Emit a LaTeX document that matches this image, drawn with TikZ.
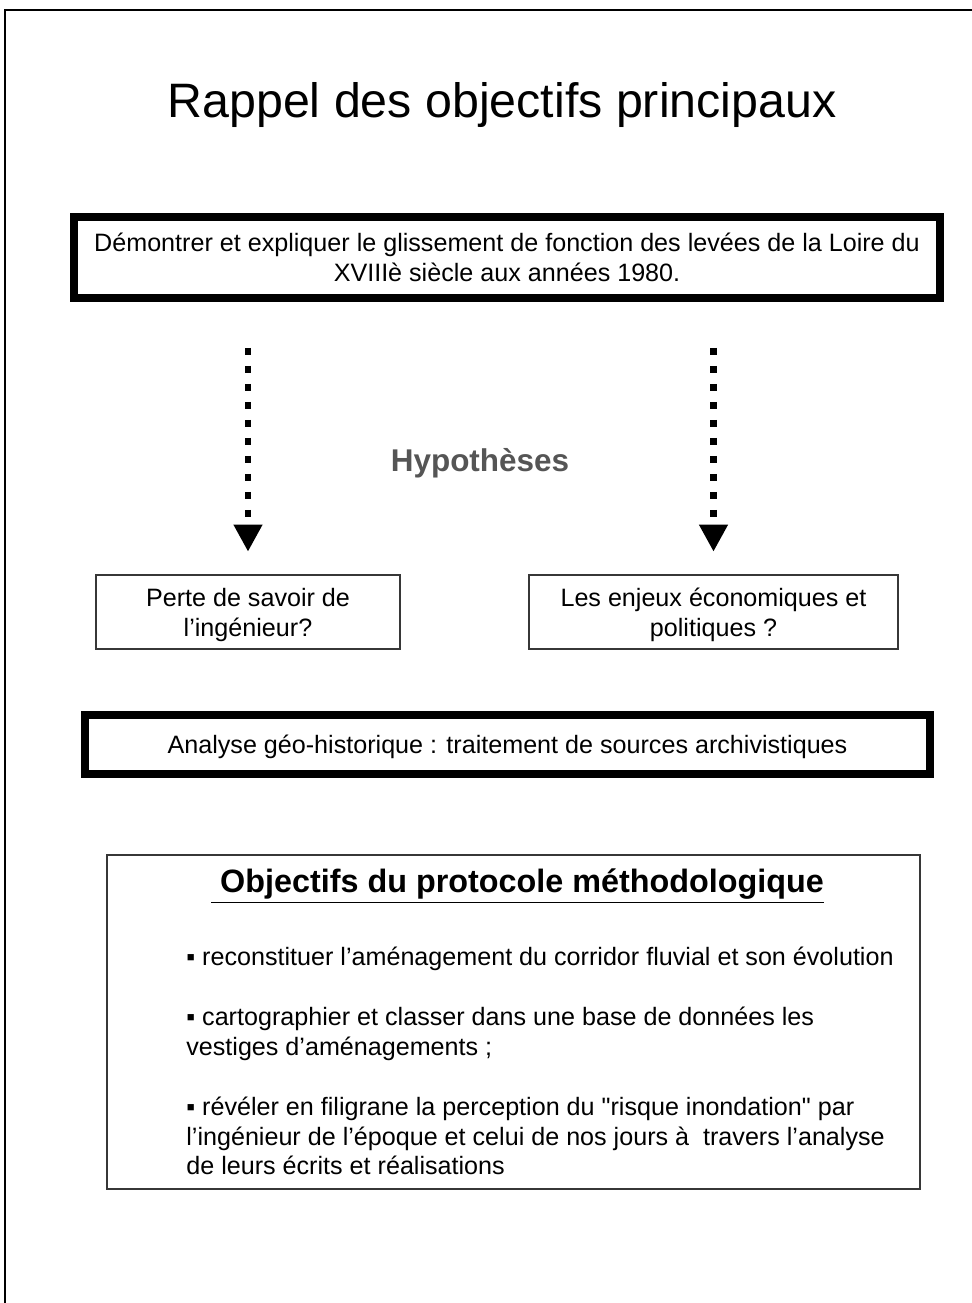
\documentclass[tikz,border=0pt]{standalone}
\usepackage{fontspec}
\setmainfont{Liberation Sans}
\usepackage{xcolor}
\usepackage{tikz}
\usetikzlibrary{arrows.meta, positioning}
\definecolor{hypcolor}{RGB}{85, 85, 85}
\definecolor{boxcolor}{RGB}{55, 55, 55}
\newcommand{\bodyfont}{\fontsize{14.3}{17}\selectfont}
\tikzstyle{titletext} = [font=\fontsize{27.5}{33}\selectfont]
\tikzstyle{goalbox} = [rectangle, minimum width=17.32cm, minimum height=1.62cm, text centered, align=center, text depth=0pt, draw=black, line width=4.5pt, font=\bodyfont]
\tikzstyle{hyptext} = [font=\fontsize{17.9}{21}\selectfont\bfseries, text=hypcolor]
\tikzstyle{hypbox} = [rectangle, minimum height=1.48cm, text centered, align=center, text depth=0pt, draw=boxcolor, line width=0.85pt, font=\bodyfont]
\tikzstyle{methodbox} = [rectangle, minimum width=16.9cm, minimum height=1.18cm, text centered, text depth=0pt, draw=black, line width=4.5pt, font=\bodyfont]
\tikzstyle{protobox} = [rectangle, minimum width=16.26cm, minimum height=6.68cm, draw=boxcolor, line width=0.85pt]
\tikzstyle{prototext} = [font=\fontsize{18.4}{22}\selectfont\bfseries]
\tikzstyle{listtext} = [anchor=north west, align=left, inner sep=0pt, font=\bodyfont]
\tikzstyle{hyparrow} = [line width=3.97pt, dash pattern=on 0.14cm off 0.22cm, -{Triangle[length=0.54cm, width=0.54cm]}, shorten <=0.92cm, shorten >=0.45cm]

\begin{document}
\begin{tikzpicture}
\useasboundingbox (0,0) rectangle (19.44,26.06);

% Cadre
\draw [line width=1.1pt] (0.1,0) -- (0.1,25.86) -- (19.44,25.86);

% Titre
\node (title) [titletext] at (10.04,23.95) {Rappel des objectifs principaux};

% Objectif principal
\node (goal) [goalbox] at (10.14,20.91) {Démontrer et expliquer le glissement de fonction des levées de la Loire du\\XVIIIè siècle aux années 1980.};

% Hypotheses
\node (hyp) [hyptext] at (9.6,16.8) {Hypothèses};
\node (savoir) [hypbox, minimum width=6.08cm] at (4.96,13.82) {Perte de savoir de\\l’ingénieur?};
\node (enjeux) [hypbox, minimum width=7.38cm] at (14.27,13.82) {Les enjeux économiques et\\politiques ?};

% Fleches
\draw [hyparrow] (goal.south -| savoir.north) -- (savoir);
\draw [hyparrow] (goal.south -| enjeux.north) -- (enjeux);

% Analyse
\node (analyse) [methodbox] at (10.15,11.17) {Analyse géo-historique : traitement de sources archivistiques};

% Protocole
\node (protocole) [protobox] at (10.27,5.62) {};
\node (prototitle) [prototext] at (10.35,8.34) {\underline{~Objectifs du protocole méthodologique}};
\node (protolist) [listtext] at (3.72,7.12) {▪ reconstituer l’aménagement du corridor fluvial et son évolution\\[17pt]
▪ cartographier et classer dans une base de données les\\vestiges d’aménagements ;\\[17pt]
▪ révéler en filigrane la perception du \textquotedbl risque inondation\textquotedbl{} par\\l’ingénieur de l’époque et celui de nos jours à~ travers l’analyse\\de leurs écrits et réalisations};

\end{tikzpicture}
\end{document}
